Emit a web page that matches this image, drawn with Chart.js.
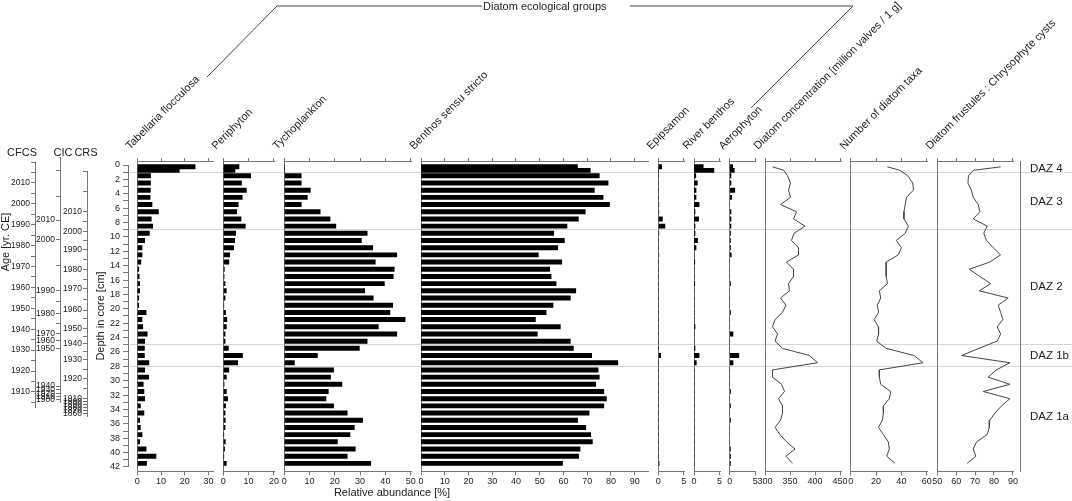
<!DOCTYPE html>
<html lang="en">
<head>
<meta charset="UTF-8">
<title>Diatom stratigraphy</title>
<script src="https://cdn.jsdelivr.net/npm/chart.js"></script>
<style>
    html, body { margin: 0; padding: 0; overflow: hidden; background: #fff; }
    body { width: 1072px; height: 501px; position: relative; font-family: "Liberation Sans", Arial, sans-serif; color: #222; }
    .box { position: absolute; }
    .lbl { position: absolute; font-size: 11px; line-height: 13px; white-space: nowrap; }
    .rot { transform-origin: 0 100%; transform: rotate(-45deg); }
    svg { position: absolute; left: 0; top: 0; }
</style>
</head>
<body>
<div id="charts"></div>

<svg width="1072" height="160">
    <polyline points="207,77 277,6 482,6" fill="none" stroke="#444" stroke-width="1" />
    <polyline points="630,6 853,6 751,108" fill="none" stroke="#444" stroke-width="1" />
</svg>
<div class="lbl" style="left:483px;top:0px;">Diatom ecological groups</div>

<div class="lbl" style="left:22px;top:146px;transform:translateX(-50%);">CFCS</div>
<div class="lbl" style="left:63px;top:146px;transform:translateX(-50%);">CIC</div>
<div class="lbl" style="left:86px;top:146px;transform:translateX(-50%);">CRS</div>
<div class="lbl" style="left:5px;top:242px;transform:translate(-50%,-50%) rotate(-90deg);">Age [yr. CE]</div>
<div class="lbl" style="left:392px;top:486px;transform:translateX(-50%);">Relative abundance [%]</div>
<div id="titles"></div>

<script>
    // sample depths (cm)
    const depths = [0.25, 0.75, 1.5, 2.5, 3.5, 4.5, 5.5, 6.5, 7.5, 8.5, 9.5, 10.5, 11.5, 12.5, 13.5, 14.5,
        15.5, 16.5, 17.5, 18.5, 19.5, 20.5, 21.5, 22.5, 23.5, 24.5, 25.5, 26.5, 27.5, 28.5, 29.5, 30.5,
        31.5, 32.5, 33.5, 34.5, 35.5, 36.5, 37.5, 38.5, 39.5, 40.5, 41.5];

    // relative abundances [%]
    const tabellaria = [24.4, 17.7, 5.6, 5.6, 5.5, 5.4, 6.2, 8.9, 5.9, 6.5, 5.1, 3.1, 2.0, 2.0, 1.5, 0.6,
        0.8, 1.0, 1.0, 0.6, 0.6, 3.7, 2.0, 2.3, 4.2, 3.1, 3.0, 3.0, 4.9, 3.1, 4.8, 2.5,
        2.8, 3.1, 1.3, 2.8, 1.0, 1.3, 2.0, 1.0, 3.7, 7.9, 3.9];
    const periphyton = [6.2, 4.6, 10.8, 7.2, 9.1, 7.5, 5.9, 5.3, 7.0, 8.7, 4.9, 4.5, 4.1, 2.5, 2.2, 0.4,
        0.3, 0.7, 1.2, 0.7, 0.2, 0.9, 1.4, 1.2, 0.7, 0.7, 2.0, 7.6, 5.7, 2.2, 1.2, 0.3,
        1.2, 1.7, 0.9, 0.7, 0.8, 0.7, 0.1, 0.8, 0.5, 0.1, 1.2];
    const tychoplankton = [0, 0, 6.7, 6.7, 10.3, 9.1, 6.7, 14.2, 18.1, 20.4, 32.8, 30.5, 35.0, 44.5, 36.0, 43.5,
        43.1, 39.6, 31.8, 35.2, 42.9, 41.8, 47.8, 37.2, 44.5, 32.8, 29.7, 13.1, 4.0, 19.5, 18.3, 22.8,
        17.4, 16.5, 19.5, 24.9, 31.0, 27.7, 26.0, 21.0, 28.1, 24.9, 34.2];
    const benthos = [65.9, 71.3, 75.1, 78.8, 73.0, 76.7, 79.4, 69.2, 66.3, 61.5, 55.9, 60.4, 57.6, 49.4, 59.3, 54.2,
        54.8, 56.9, 65.2, 62.9, 55.6, 52.7, 48.2, 58.7, 49.0, 62.9, 64.2, 71.9, 82.9, 74.6, 75.1, 73.6,
        77.0, 78.1, 77.0, 70.8, 66.0, 69.4, 71.5, 72.2, 67.0, 66.4, 59.6];
    const epipsamon = [0.65, 0, 0, 0, 0, 0, 0.1, 0.1, 0.8, 1.3, 0.1, 0, 0, 0.1, 0, 0,
        0, 0, 0, 0, 0, 0, 0, 0, 0, 0, 0, 0.45, 0, 0, 0, 0,
        0, 0, 0, 0, 0, 0, 0, 0, 0, 0, 0.15];
    const riverBenthos = [1.8, 3.9, 0.35, 0.65, 0.4, 0.4, 1.0, 0.2, 0.9, 0.2, 0.2, 0.7, 0.4, 0, 0.15, 0,
        0, 0.15, 0, 0, 0, 0, 0, 0.2, 0, 0, 0.2, 1.0, 0.45, 0, 0, 0,
        0, 0, 0, 0, 0, 0, 0, 0, 0, 0, 0];
    const aerophyton = [0.6, 0.9, 0.25, 0.25, 1.0, 0.4, 0, 0.25, 0.25, 0.25, 0.15, 0.15, 0.15, 0.3, 0, 0,
        0, 0.15, 0, 0, 0, 0.15, 0, 0, 0.65, 0, 0, 1.8, 0.65, 0, 0, 0,
        0.15, 0, 0.15, 0, 0.15, 0, 0, 0, 0.15, 0.15, 0.15];

    // other curves
    const concentration = [315, 338, 345, 351, 347, 351, 331, 363, 357, 380, 358, 353, 367, 367, 343, 357,
        357, 347, 349, 331, 342, 335, 320, 315, 325, 320, 335, 389, 405, 315, 315, 333,
        339, 327, 335, 335, 331, 320, 330, 343, 360, 342, 355];
    const taxaCount = [29, 39, 45, 49, 49.5, 44, 43, 42, 42, 45.5, 43, 36, 40, 37.6, 28, 28,
        28, 29, 22.6, 23.7, 21, 22, 18.5, 21.8, 22, 20.5, 28, 50, 57, 22.6, 22.6, 23.7,
        31.6, 30.5, 25.8, 25.8, 25, 22, 25.8, 29.7, 30.5, 28.4, 35];
    const frustulesCysts = [83.5, 69, 66.5, 66.2, 68, 69, 71.7, 72.5, 69, 76.4, 74.6, 76, 79.6, 83.5, 77.8, 66.9,
        72.5, 78.2, 72.2, 87.5, 82.2, 83.5, 84.7, 81.7, 83.5, 81.7, 72, 62.9, 88.4, 81.3, 76.9, 88.4,
        74.3, 88.4, 84, 80.5, 77.8, 77.5, 76.4, 70.8, 69, 70.4, 65.8];

    // age models: tick labels and the depth where each sits
    const cicYears = [2010, 2000, 1990, 1980, 1970, 1960, 1950, 1940, 1930, 1920, 1910, 1900];
    const cicDepths = [7.65, 10.43, 17.52, 20.63, 23.5, 24.44, 25.55, 30.74, 31.29, 31.75, 32.22, 32.68];
    const cicMinor = [0.7, 4.45, 13.97, 19.05, 22.0];
    const crsYears = [2010, 2000, 1990, 1980, 1970, 1960, 1950, 1940, 1930, 1920, 1910, 1900, 1890, 1880, 1870, 1860];
    const crsDepths = [6.5, 9.28, 11.82, 14.6, 17.15, 20.17, 22.71, 24.8, 27.12, 29.67, 32.45, 32.92, 33.3, 33.73, 34.15, 34.53];
    const crsMinor = [0.93, 3.71, 7.89, 10.55, 13.2, 15.9, 18.7, 21.4, 23.8, 26.0, 28.4, 31.1];

    // diatom assemblage zones
    const dazLabels = ['DAZ 4', 'DAZ 3', 'DAZ 2', 'DAZ 1b', 'DAZ 1a'];
    const dazDepths = [0.5, 5.1, 17, 26.5, 35];
    const zoneBounds = [1, 9, 25, 28];

    Chart.defaults.font.family = '"Liberation Sans", Arial, sans-serif';
    Chart.defaults.font.size = 9;
    Chart.defaults.color = '#222';

    const AXIS = '#777';
    const DEPTH_TOP = 165, CM = 7.19;     // pixel of depth 0, pixels per cm
    const Y_MIN = -0.42, Y_MAX = 42.62;   // depth range of each panel
    const yPix = d => DEPTH_TOP + CM * d;

    // put a chart in its own box so that its chart area lands on the given pixels
    // axes = fixed sizes given to the scales in afterFit (left axis width, bottom axis height)
    function place(area, config, axes) {
        axes = Object.assign({ l: 0, b: 0 }, axes);
        const L = Math.floor(area.x - 45 - axes.l), T = Math.floor(area.y - 20);
        const R = Math.ceil(area.x + area.w + 30), B = Math.ceil(area.y + area.h + 30 + axes.b);
        const div = document.createElement('div');
        div.className = 'box';
        div.style.cssText = `left:${L}px;top:${T}px;width:${R - L}px;height:${B - T}px;`;
        const canvas = document.createElement('canvas');
        div.appendChild(canvas);
        document.getElementById('charts').appendChild(div);
        config.options.responsive = true;
        config.options.maintainAspectRatio = false;
        config.options.animation = false;
        config.options.layout = {
            padding: {
                left: area.x - L - axes.l, top: area.y - T,
                right: R - area.x - area.w, bottom: B - area.y - area.h - axes.b
            }
        };
        config.options.plugins = { legend: { display: false }, tooltip: { enabled: false } };
        return new Chart(canvas, config);
    }

    // background: zone boundaries running across every panel
    place({ x: 130, y: yPix(Y_MIN), w: 942, h: (Y_MAX - Y_MIN) * CM }, {
        type: 'line',
        data: { datasets: [] },
        options: {
            scales: {
                x: { display: false },
                y: {
                    type: 'linear', reverse: true, min: Y_MIN, max: Y_MAX,
                    afterBuildTicks: s => { s.ticks = zoneBounds.map(v => ({ value: v })); },
                    ticks: { display: false },
                    grid: { color: '#d6d6d6', drawTicks: false },
                    border: { display: false },
                    afterFit: s => { s.width = 0; }
                }
            }
        }
    });

    // panels
    const panels = [
        { title: 'Tabellaria flocculosa', values: tabellaria, left: 137.3, min: 0, max: 32, ppu: 2.37, step: 10 },
        { title: 'Periphyton', values: periphyton, left: 223.3, min: 0, max: 20.3, ppu: 2.53, step: 10 },
        { title: 'Tychoplankton', values: tychoplankton, left: 284.3, min: 0, max: 50.3, ppu: 2.527, step: 10 },
        { title: 'Benthos sensu stricto', values: benthos, left: 421, min: 0, max: 95.8, ppu: 2.374, step: 10 },
        { title: 'Epipsamon', values: epipsamon, left: 658.3, min: 0, max: 5.15, ppu: 5.1, step: 5 },
        { title: 'River benthos', values: riverBenthos, left: 694, min: 0, max: 5.15, ppu: 5.1, step: 5 },
        { title: 'Aerophyton', values: aerophyton, left: 729.7, min: 0, max: 5.15, ppu: 5.1, step: 5 },
        { title: 'Diatom concentration [million valves / 1 g]', values: concentration, left: 765, min: 300, max: 452, ppu: 0.5, step: 50, line: true },
        { title: 'Number of diatom taxa', values: taxaCount, left: 850.7, min: 0, max: 60.5, ppu: 1.267, step: 20, line: true },
        { title: 'Diatom frustules : Chrysophyte cysts', values: frustulesCysts, left: 937.3, min: 50, max: 90.5, ppu: 1.89, step: 10, line: true }
    ];

    const BOTTOM_H = 18;

    panels.forEach(p => {
        const xAxis = (pos) => ({
            type: 'linear', position: pos, axis: 'x', min: p.min, max: p.max,
            afterBuildTicks: s => {
                const ticks = [];
                for (let v = p.min; v <= p.max + 1e-9; v += p.step) ticks.push({ value: v });
                s.ticks = ticks;
            },
            ticks: { autoSkip: false, maxRotation: 0, padding: 1, display: pos === 'bottom', callback: v => v },
            grid: { drawOnChartArea: false, tickLength: 4, color: AXIS },
            border: { color: AXIS },
            afterFit: s => { s.height = pos === 'bottom' ? BOTTOM_H : 0; }
        });
        place({ x: p.left, y: yPix(Y_MIN), w: (p.max - p.min) * p.ppu, h: (Y_MAX - Y_MIN) * CM }, {
            type: p.line ? 'line' : 'bar',
            data: {
                datasets: [{
                    label: p.title,
                    data: depths.map((d, i) => ({ x: p.values[i], y: d })),
                    backgroundColor: '#000',
                    borderColor: '#444',
                    borderWidth: p.line ? 1 : 0,
                    barThickness: 4.3,
                    pointRadius: 0,
                    tension: 0
                }]
            },
            options: {
                indexAxis: 'y',
                scales: {
                    x: xAxis('bottom'),
                    x2: xAxis('top'),
                    y: {
                        type: 'linear', reverse: true, min: Y_MIN, max: Y_MAX, offset: false,
                        ticks: { display: false },
                        grid: { drawOnChartArea: false, drawTicks: false, offset: false },
                        border: { color: AXIS },
                        afterFit: s => { s.width = 0; }
                    }
                }
            }
        }, { b: BOTTOM_H });

        const t = document.createElement('div');
        t.className = 'lbl rot';
        t.textContent = p.title;
        t.style.left = (p.left - 5) + 'px';
        t.style.top = (152 - 13) + 'px';
        document.getElementById('titles').appendChild(t);
    });

    // depth axis
    place({ x: 128, y: yPix(0), w: 4, h: 42 * CM }, {
        type: 'line',
        data: { datasets: [] },
        options: {
            scales: {
                x: { display: false },
                y: {
                    type: 'linear', reverse: true, min: 0, max: 42,
                    ticks: { stepSize: 1, autoSkip: false, padding: 3, callback: v => (v % 2 === 0 ? v : '') },
                    grid: { drawOnChartArea: false, tickLength: 5, color: AXIS },
                    border: { color: AXIS },
                    title: { display: true, text: 'Depth in core [cm]', font: { size: 11 } },
                    afterFit: s => { s.width = 38; }
                }
            }
        }
    }, { l: 38 });

    const AGE_W = 30;
    const AGE_FONT = { size: 8.5 };

    // CFCS: constant rate, so a plain year axis
    place({ x: 35, y: 162, w: 4, h: 245 }, {
        type: 'line',
        data: { datasets: [] },
        options: {
            scales: {
                x: { display: false },
                y: {
                    type: 'linear', min: 1902.8, max: 2020,
                    ticks: { stepSize: 5, includeBounds: false, autoSkip: false, padding: 1, font: AGE_FONT, callback: v => (v % 10 === 0 && v <= 2010 ? v : '') },
                    grid: { drawOnChartArea: false, tickLength: 4, color: AXIS },
                    border: { color: AXIS },
                    afterFit: s => { s.width = AGE_W; }
                }
            }
        }
    }, { l: AGE_W });

    // CIC and CRS: years placed at their depths
    function ageAxis(x, years, yearDepths, minor, top, bottom) {
        place({ x: x, y: yPix(top), w: 4, h: (bottom - top) * CM }, {
            type: 'line',
            data: { datasets: [] },
            options: {
                scales: {
                    x: { display: false },
                    y: {
                        type: 'linear', reverse: true, min: top, max: bottom,
                        afterBuildTicks: s => {
                            s.ticks = yearDepths.concat(minor).map(v => ({ value: v }));
                        },
                        ticks: {
                            autoSkip: false, padding: 1, font: AGE_FONT,
                            callback: v => {
                                const i = yearDepths.indexOf(v);
                                return i >= 0 ? years[i] : '';
                            }
                        },
                        grid: { drawOnChartArea: false, tickLength: 4, color: AXIS },
                        border: { color: AXIS },
                        afterFit: s => { s.width = AGE_W; }
                    }
                }
            }
        }, { l: AGE_W });
    }
    ageAxis(60, cicYears, cicDepths, cicMinor, -1.1, 33.1);
    ageAxis(87, crsYears, crsDepths, crsMinor, 0.93, 35.0);

    // zone labels
    place({ x: 1020, y: yPix(Y_MIN), w: 40, h: (Y_MAX - Y_MIN) * CM }, {
        type: 'line',
        data: { datasets: [] },
        options: {
            scales: {
                x: { display: false },
                y: {
                    type: 'linear', reverse: true, min: Y_MIN, max: Y_MAX,
                    afterBuildTicks: s => { s.ticks = dazDepths.map(v => ({ value: v })); },
                    ticks: { mirror: true, padding: 10, autoSkip: false, font: { size: 11.5 }, callback: (v, i) => dazLabels[i] },
                    grid: { drawOnChartArea: false, drawTicks: false },
                    border: { color: AXIS },
                    afterFit: s => { s.width = 0; }
                }
            }
        }
    });
</script>
</body>
</html>
